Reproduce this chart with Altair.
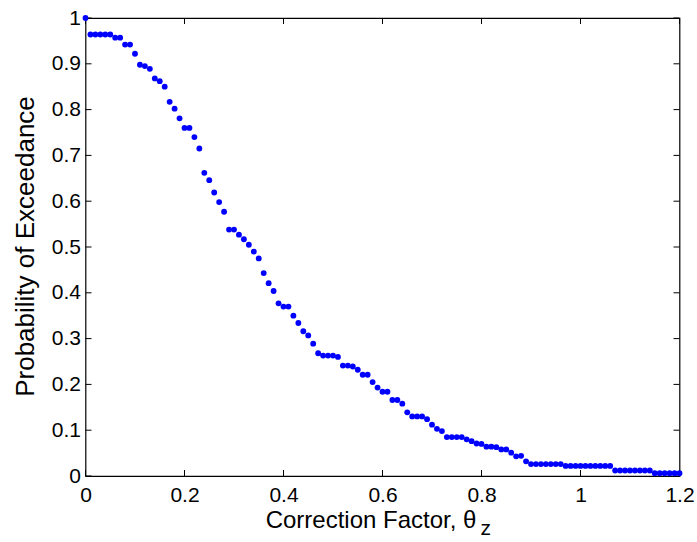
import altair as alt
import pandas as pd

# Correction factor values (0 to 1.2 step 0.01)
theta_z = [round(i * 0.01, 2) for i in range(121)]
prob_exceed = [
    1.000, 0.964, 0.964, 0.964, 0.964, 0.964, 0.957, 0.957, 0.942, 0.942,
    0.922, 0.898, 0.895, 0.889, 0.868, 0.862, 0.850, 0.817, 0.802, 0.781,
    0.760, 0.760, 0.740, 0.715, 0.662, 0.646, 0.619, 0.598, 0.577, 0.538,
    0.538, 0.527, 0.517, 0.505, 0.490, 0.475, 0.443, 0.421, 0.404, 0.377,
    0.370, 0.370, 0.350, 0.334, 0.316, 0.307, 0.289, 0.268, 0.263, 0.263,
    0.263, 0.260, 0.241, 0.241, 0.239, 0.232, 0.221, 0.221, 0.205, 0.193,
    0.184, 0.184, 0.166, 0.166, 0.158, 0.139, 0.130, 0.130, 0.130, 0.124,
    0.112, 0.103, 0.098, 0.085, 0.085, 0.085, 0.085, 0.080, 0.076, 0.071,
    0.070, 0.064, 0.064, 0.063, 0.058, 0.058, 0.051, 0.043, 0.044, 0.032,
    0.026, 0.026, 0.026, 0.026, 0.026, 0.026, 0.026, 0.022, 0.022, 0.022,
    0.022, 0.022, 0.022, 0.022, 0.022, 0.022, 0.022, 0.012, 0.012, 0.012,
    0.012, 0.012, 0.012, 0.012, 0.012, 0.006, 0.006, 0.006, 0.006, 0.006,
    0.006,
]
x_ticks = [0, 0.2, 0.4, 0.6, 0.8, 1.0, 1.2]
y_ticks = [0, 0.1, 0.2, 0.3, 0.4, 0.5, 0.6, 0.7, 0.8, 0.9, 1.0]

FONT = "Liberation Sans"
W, H = 594, 458

df = pd.DataFrame({"x": theta_z, "y": prob_exceed})
xt = pd.DataFrame({"t": x_ticks})
yt = pd.DataFrame({"t": y_ticks})

xscale = alt.Scale(domain=[0, 1.2], nice=False, zero=False)
yscale = alt.Scale(domain=[0, 1], nice=False, zero=False)

xaxis = alt.Axis(
    values=x_ticks, title="Correction Factor, θ", ticks=False, tickSize=0,
    domain=False, grid=False, labelFont=FONT, labelFontSize=21, labelColor="black",
    labelPadding=8, labelFlush=False, format="~g",
    titleFont=FONT, titleFontSize=24, titleFontWeight="normal", titleColor="black",
    titleX=285, titleY=51, titleAlign="center", titleBaseline="alphabetic",
)
yaxis = alt.Axis(
    values=y_ticks, title="Probability of Exceedance", ticks=False, tickSize=0,
    domain=False, grid=False, labelFont=FONT, labelFontSize=21, labelColor="black",
    labelPadding=5, labelFlush=False, format="~g",
    titleFont=FONT, titleFontSize=26, titleFontWeight="normal", titleColor="black",
    titleX=-52, titleY=228, titleAngle=270, titleAlign="center", titleBaseline="alphabetic",
)

points = alt.Chart(df).mark_circle(color="#0000ff", size=34, opacity=1).encode(
    x=alt.X("x:Q", scale=xscale, axis=xaxis),
    y=alt.Y("y:Q", scale=yscale, axis=yaxis),
)

xtick_bottom = alt.Chart(xt).mark_rule(color="black", strokeWidth=1).encode(
    x=alt.X("t:Q", scale=xscale, axis=xaxis),
    y=alt.value(H), y2=alt.value(H - 6),
)
xtick_top = alt.Chart(xt).mark_rule(color="black", strokeWidth=1).encode(
    x=alt.X("t:Q", scale=xscale, axis=xaxis),
    y=alt.value(0), y2=alt.value(6),
)
ytick_left = alt.Chart(yt).mark_rule(color="black", strokeWidth=1).encode(
    y=alt.Y("t:Q", scale=yscale, axis=yaxis),
    x=alt.value(0), x2=alt.value(6),
)
ytick_right = alt.Chart(yt).mark_rule(color="black", strokeWidth=1).encode(
    y=alt.Y("t:Q", scale=yscale, axis=yaxis),
    x=alt.value(W), x2=alt.value(W - 6),
)

sub_z = alt.Chart(pd.DataFrame({"s": ["z"]})).mark_text(
    font=FONT, fontSize=21, align="left", baseline="alphabetic", color="black"
).encode(text="s:N", x=alt.value(395), y=alt.value(517))

chart = alt.layer(
    xtick_bottom, xtick_top, ytick_left, ytick_right, points, sub_z
).properties(
    width=W, height=H,
    padding={"left": 85.5, "top": 18, "right": 17.5, "bottom": 66},
    autosize=alt.AutoSizeParams(type="none"),
    background="white",
).configure_view(stroke="black", strokeWidth=1.2, fill="white")

chart.save("out.html", embed_options={"renderer": "svg", "actions": False})
